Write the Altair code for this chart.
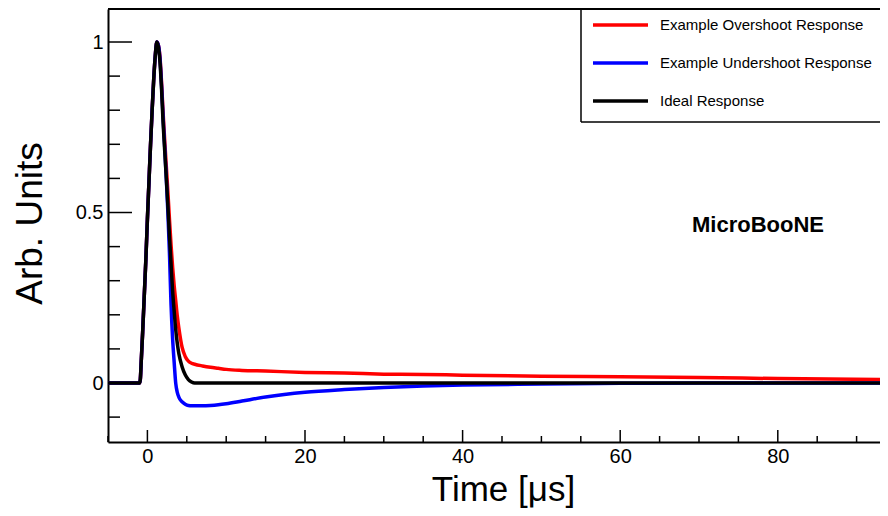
import altair as alt
import pandas as pd

# ---------------- data ----------------
time_us = [-5, -2, -1.0, -0.9, -0.8, -0.6, -0.4, -0.2, 0.0, 0.2, 0.4, 0.6, 0.8, 1.0, 1.2,
           1.4, 1.6, 1.8, 2.0, 2.2, 2.4, 2.6, 2.8, 3.0, 3.2, 3.4, 3.6, 3.8, 4.0, 4.4, 4.8,
           5.2, 5.6, 6.0, 7, 8, 9, 10, 12, 15, 20, 25, 30, 35, 40, 50, 60, 70, 80, 94]

overshoot = [0, 0, 0, 0.01, 0.055, 0.15, 0.255, 0.36, 0.48, 0.59, 0.70, 0.80, 0.89, 0.96, 1.0,
             0.99, 0.955, 0.88, 0.79, 0.71, 0.635, 0.56, 0.48, 0.405, 0.34, 0.285, 0.24, 0.195, 0.16, 0.105, 0.078,
             0.064, 0.058, 0.055, 0.050, 0.046, 0.043, 0.040, 0.037, 0.035, 0.031, 0.029, 0.026, 0.025, 0.023, 0.020, 0.018, 0.016, 0.013, 0.010]

undershoot = [0, 0, 0, 0.01, 0.055, 0.15, 0.255, 0.36, 0.48, 0.59, 0.70, 0.80, 0.89, 0.96, 1.0,
              0.99, 0.95, 0.87, 0.775, 0.69, 0.60, 0.50, 0.38, 0.23, 0.13, 0.06, -0.002, -0.028, -0.042, -0.055, -0.062,
              -0.066, -0.067, -0.067, -0.067, -0.066, -0.064, -0.061, -0.053, -0.041, -0.027, -0.019, -0.013, -0.009, -0.006, -0.003, -0.001, 0, 0, 0]

ideal = [0, 0, 0, 0.01, 0.055, 0.15, 0.255, 0.36, 0.48, 0.59, 0.70, 0.80, 0.89, 0.96, 1.0,
         0.985, 0.94, 0.86, 0.76, 0.68, 0.60, 0.52, 0.43, 0.35, 0.27, 0.21, 0.155, 0.115, 0.085, 0.048, 0.024,
         0.01, 0.003, 0, 0, 0, 0, 0, 0, 0, 0, 0, 0, 0, 0, 0, 0, 0, 0, 0]

series_names = ["Example Overshoot Response", "Example Undershoot Response", "Ideal Response"]
series_colors = ["#ff0000", "#0000ff", "#000000"]

x_major = [0, 20, 40, 60, 80]
x_minor = [-5, 5, 10, 15, 25, 30, 35, 45, 50, 55, 65, 70, 75, 85, 90]
y_major = [0, 0.5, 1]
y_minor = [-0.1, 0.1, 0.2, 0.3, 0.4, 0.6, 0.7, 0.8, 0.9]

x_title = "Time [μs]"
y_title = "Arb. Units"
watermark = "MicroBooNE"

# ---------------- layout ----------------
X_DOMAIN = [-5, 92.97]
Y_DOMAIN = [-0.173, 1.0968]
W, H = 772, 433
FONT = "Liberation Sans"

wide = pd.DataFrame({"time": time_us,
                     series_names[0]: overshoot,
                     series_names[1]: undershoot,
                     series_names[2]: ideal})
long = wide.melt("time", var_name="series", value_name="amp")

xs = alt.Scale(domain=X_DOMAIN, nice=False, zero=False)
ys = alt.Scale(domain=Y_DOMAIN, nice=False, zero=False)

x_axis = alt.Axis(values=x_major, ticks=False, tickSize=0, grid=False,
                  domainColor="black", domainWidth=2, labelFlush=False,
                  labelFont=FONT, labelFontSize=20, labelColor="black", labelPadding=4,
                  title=x_title, titleFont=FONT, titleFontSize=35, titleFontWeight="normal",
                  titleColor="black", titleX=395, titleY=58, titleAlign="center",
                  titleBaseline="alphabetic")
y_axis = alt.Axis(values=y_major, format="~g", ticks=False, tickSize=0, grid=False,
                  domainColor="black", domainWidth=2,
                  labelFont=FONT, labelFontSize=20, labelColor="black", labelPadding=5,
                  title=y_title, titleFont=FONT, titleFontSize=37, titleFontWeight="normal",
                  titleColor="black", titleAngle=270, titleX=-67, titleY=214,
                  titleAlign="center", titleBaseline="alphabetic")

lines = alt.Chart(long).mark_line(strokeWidth=3.5, clip=True, interpolate="monotone").encode(
    x=alt.X("time:Q", scale=xs, axis=x_axis, title=x_title),
    y=alt.Y("amp:Q", scale=ys, axis=y_axis, title=y_title),
    color=alt.Color("series:N", scale=alt.Scale(domain=series_names, range=series_colors), legend=None),
    detail="series:N",
)

# ticks drawn inside the frame (ROOT style)
xmaj = alt.Chart(pd.DataFrame({"t": x_major})).mark_rule(color="black", strokeWidth=1.5).encode(
    x=alt.X("t:Q", scale=xs, axis=x_axis, title=x_title), y=alt.value(H), y2=alt.value(H - 12))
xmin = alt.Chart(pd.DataFrame({"t": x_minor})).mark_rule(color="black", strokeWidth=1.5).encode(
    x=alt.X("t:Q", scale=xs, axis=x_axis, title=x_title), y=alt.value(H), y2=alt.value(H - 6))
ymaj = alt.Chart(pd.DataFrame({"t": y_major})).mark_rule(color="black", strokeWidth=1.5).encode(
    y=alt.Y("t:Q", scale=ys, axis=y_axis, title=y_title), x=alt.value(0), x2=alt.value(24))
ymin = alt.Chart(pd.DataFrame({"t": y_minor})).mark_rule(color="black", strokeWidth=1.5).encode(
    y=alt.Y("t:Q", scale=ys, axis=y_axis, title=y_title), x=alt.value(0), x2=alt.value(12))

# top border of frame
top_border = alt.Chart(pd.DataFrame({"a": [0]})).mark_rule(color="black", strokeWidth=2).encode(
    x=alt.value(0), x2=alt.value(W), y=alt.value(0))

# legend box (left and bottom edges; top shares frame, right is off-canvas)
LX, LB = 473, 113
leg_left = alt.Chart(pd.DataFrame({"a": [0]})).mark_rule(color="black", strokeWidth=1.5).encode(
    x=alt.value(LX), y=alt.value(0), y2=alt.value(LB))
leg_bottom = alt.Chart(pd.DataFrame({"a": [0]})).mark_rule(color="black", strokeWidth=1.5).encode(
    x=alt.value(LX), x2=alt.value(W), y=alt.value(LB))

legend_layers = []
for i, (name, col) in enumerate(zip(series_names, series_colors)):
    ry = 16 + 38 * i
    legend_layers.append(
        alt.Chart(pd.DataFrame({"a": [0]})).mark_rule(color=col, strokeWidth=3.3).encode(
            x=alt.value(485), x2=alt.value(540), y=alt.value(ry)))
    legend_layers.append(
        alt.Chart(pd.DataFrame({"a": [0]})).mark_text(
            align="left", baseline="middle", font=FONT, fontSize=15, color="black").encode(
            x=alt.value(552), y=alt.value(ry), text=alt.value(name)))

label = alt.Chart(pd.DataFrame({"a": [0]})).mark_text(
    align="left", baseline="alphabetic", font=FONT, fontSize=22, fontWeight="bold", color="black"
).encode(x=alt.value(584), y=alt.value(223), text=alt.value(watermark))

chart = alt.layer(lines, xmaj, xmin, ymaj, ymin, top_border, leg_left, leg_bottom,
                  *legend_layers, label).properties(
    width=W, height=H,
    autosize=alt.AutoSizeParams(type="none"),
    padding={"left": 100, "top": 1, "right": 0, "bottom": 66},
    background="white",
).configure_view(stroke=None)

chart.save("out.html", embed_options={"renderer": "svg", "actions": False})
